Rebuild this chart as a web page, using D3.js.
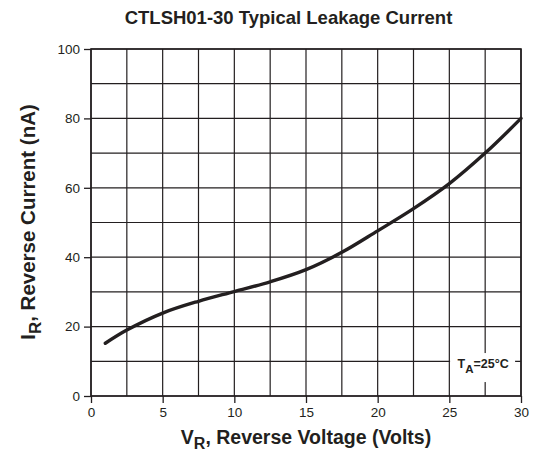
<!DOCTYPE html>
<html>
<head>
<meta charset="utf-8">
<script src="https://cdn.jsdelivr.net/npm/d3@7"></script>
<style>
body { margin: 0; background: #fff; }
text { font-family: "Liberation Sans", Arial, sans-serif; fill: #231f20; }
</style>
</head>
<body>
<div id="mainContainer"></div>
<script>
'use strict';

var svgWidth = 535,
    svgHeight = 452,
    margin = { top: 49, right: 14, bottom: 56, left: 91 };

// data
var voltage = [1, 2.5, 5, 7.5, 10, 12.5, 15, 17.5, 20, 22.5, 25, 27.5, 30];
var current = [15.2, 19.0, 23.9, 27.3, 30.1, 32.9, 36.4, 41.4, 47.6, 54.0, 61.2, 70.0, 80];
var xTicks = [0, 5, 10, 15, 20, 25, 30];
var yTicks = [0, 20, 40, 60, 80, 100];
var xGrid = d3.range(0, 30.01, 2.5);
var yGrid = d3.range(0, 100.01, 10);

var w = svgWidth - margin.left - margin.right,
    h = svgHeight - margin.top - margin.bottom;

var svg = d3.select('#mainContainer')
    .append('svg')
    .attr('width', svgWidth)
    .attr('height', svgHeight);

var x = d3.scaleLinear().domain([0, 30]).range([0, w]);
var y = d3.scaleLinear().domain([0, 100]).range([h, 0]);

var g = svg.append('g')
    .attr('transform', 'translate(' + margin.left + ',' + margin.top + ')');

// grid
g.selectAll('.vgrid').data(xGrid).enter().append('line')
    .attr('x1', function (d) { return x(d); })
    .attr('x2', function (d) { return x(d); })
    .attr('y1', 0).attr('y2', h)
    .attr('stroke', '#231f20').attr('stroke-width', 1.2);

g.selectAll('.hgrid').data(yGrid).enter().append('line')
    .attr('x1', 0).attr('x2', w)
    .attr('y1', function (d) { return y(d); })
    .attr('y2', function (d) { return y(d); })
    .attr('stroke', '#231f20').attr('stroke-width', 1.2);

// frame
g.append('rect')
    .attr('width', w).attr('height', h)
    .attr('fill', 'none')
    .attr('stroke', '#231f20').attr('stroke-width', 1.6);

// axes
var xAxis = g.append('g')
    .attr('transform', 'translate(0,' + h + ')')
    .call(d3.axisBottom(x).tickValues(xTicks).tickSize(7).tickPadding(4));
var yAxis = g.append('g')
    .call(d3.axisLeft(y).tickValues(yTicks).tickSize(7).tickPadding(4));

[xAxis, yAxis].forEach(function (a) {
    a.select('.domain').remove();
    a.selectAll('line').attr('stroke', '#231f20').attr('stroke-width', 1.3);
    a.selectAll('text')
        .attr('font-size', 13.5)
        .attr('font-family', '"Liberation Sans", Arial, sans-serif')
        .attr('fill', '#231f20');
});

// temperature label
var lbl = g.append('g')
    .attr('transform', 'translate(' + x(27.32) + ',' + y(8.2) + ')');
lbl.append('rect')
    .attr('x', -32.5).attr('y', -14.5).attr('width', 65).attr('height', 29)
    .attr('fill', '#fff');
var lt = lbl.append('text')
    .attr('x', 0.5)
    .attr('text-anchor', 'middle')
    .attr('dy', 0.5)
    .attr('font-size', 12.5)
    .attr('font-weight', 'bold');
lt.append('tspan').text('T');
lt.append('tspan').attr('font-size', 11.5).attr('dy', 5).text('A');
lt.append('tspan').attr('dy', -5).text('=25°C');

// curve
var line = d3.line()
    .x(function (d, i) { return x(voltage[i]); })
    .y(function (d) { return y(d); })
    .curve(d3.curveCatmullRom.alpha(0.5));

g.append('path')
    .datum(current)
    .attr('d', line)
    .attr('fill', 'none')
    .attr('stroke', '#231f20')
    .attr('stroke-width', 3.4)
    .attr('stroke-linecap', 'round');

// title
svg.append('text')
    .attr('x', 288.5).attr('y', 24)
    .attr('text-anchor', 'middle')
    .attr('font-size', 18.5)
    .attr('font-weight', 'bold')
    .text('CTLSH01-30 Typical Leakage Current');

// x label
var xl = svg.append('text')
    .attr('x', 306).attr('y', 444)
    .attr('text-anchor', 'middle')
    .attr('font-size', 19.5)
    .attr('font-weight', 'bold');
xl.append('tspan').text('V');
xl.append('tspan').attr('font-size', 16).attr('dy', 5).text('R');
xl.append('tspan').attr('dy', -5).text(', Reverse Voltage (Volts)');

// y label
var yl = svg.append('text')
    .attr('transform', 'translate(35,222) rotate(-90)')
    .attr('text-anchor', 'middle')
    .attr('font-size', 20.5)
    .attr('font-weight', 'bold');
yl.append('tspan').text('I');
yl.append('tspan').attr('font-size', 17).attr('dy', 6).text('R');
yl.append('tspan').attr('dy', -6).text(', Reverse Current (nA)');
</script>
</body>
</html>
